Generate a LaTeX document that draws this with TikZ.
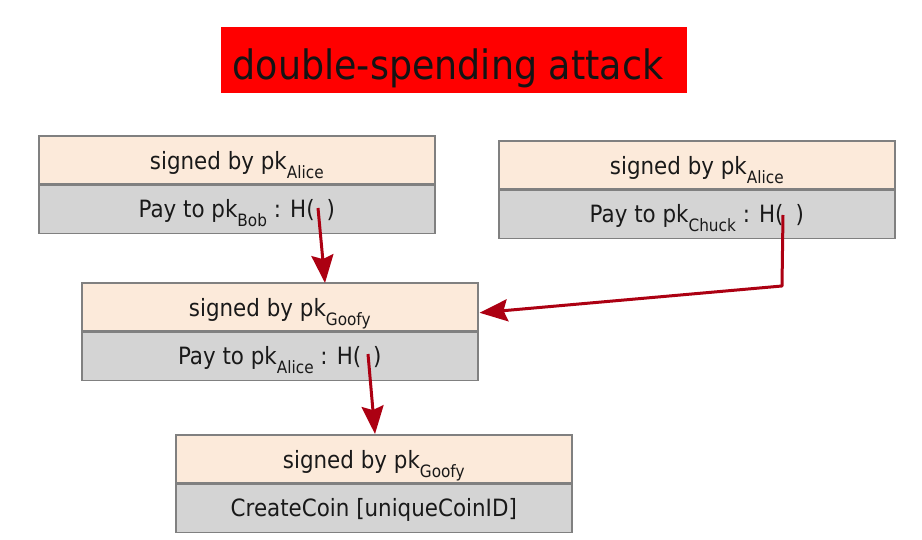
\documentclass[tikz,border=0pt]{standalone}
\usepackage{fontspec}
\setmainfont{DejaVu Sans}[FakeStretch=0.9]
\usetikzlibrary{arrows.meta,calc}
\definecolor{peach}{RGB}{252,234,218}
\definecolor{rowgrey}{RGB}{212,212,212}
\definecolor{edgegrey}{RGB}{128,128,128}
\definecolor{arrred}{RGB}{172,0,18}
\newcommand\subk[1]{\raisebox{-9pt}{\fontsize{17}{17}\selectfont #1}}
\begin{document}
\begin{tikzpicture}[x=1pt,y=-1pt,
  rowbase/.style={draw=edgegrey,line width=1.6pt,minimum width=396pt,minimum height=48pt,inner sep=0pt,
    font=\fontsize{23.8}{26}\selectfont,text=black!90},
  toprow/.style={rowbase,fill=peach,text height=24pt,text depth=4pt},
  botrow/.style={rowbase,fill=rowgrey,text height=22pt,text depth=5pt},
  arr/.style={draw=arrred,line width=3pt,-{Stealth[length=28pt,width=22pt,inset=4pt]}}]
\useasboundingbox (0,0) rectangle (922,540);
\fill[white] (0,0) rectangle (922,540);
% title
\node[fill=red,minimum width=466pt,minimum height=66pt,inner sep=0pt,anchor=north west] (title) at (221,27) {};
\node[anchor=base,font=\fontsize{40.5}{44}\selectfont,text=black!92] (titletext) at (448,80) {double-spending attack};
% box 1
\node[toprow,anchor=north west] (b1t) at (38,135) {signed by pk\subk{Alice}};
\node[botrow,anchor=north] (b1b) at (b1t.south) {Pay to pk\subk{Bob} : H(\hspace{12pt})};
% box 2
\node[toprow,anchor=north west] (b2t) at (498,140) {signed by pk\subk{Alice}};
\node[botrow,anchor=north] (b2b) at (b2t.south) {Pay to pk\subk{Chuck} : H(\hspace{12pt})};
% box 3
\node[toprow,anchor=north west] (b3t) at (81,282) {signed by pk\subk{Goofy}};
\node[botrow,anchor=north] (b3b) at (b3t.south) {Pay to pk\subk{Alice} : H(\hspace{12pt})};
% box 4
\node[toprow,anchor=north west] (b4t) at (175,434) {signed by pk\subk{Goofy}};
\node[botrow,anchor=north] (b4b) at (b4t.south) {CreateCoin [uniqueCoinID]};
% arrow start points inside H( )
\coordinate (h1) at (318,208);
\coordinate (h2) at (783,215);
\coordinate (h3) at (368,354);
\coordinate (bend) at (782,286);
\draw[arr] (h1) -- ($(b3t.north west)+(244,1)$);
\draw[arr,line join=round] (h2) -- (bend) -- ($(b3t.east)+(1,6)$);
\draw[arr] (h3) -- ($(b4t.north west)+(200,0)$);
\end{tikzpicture}
\end{document}
